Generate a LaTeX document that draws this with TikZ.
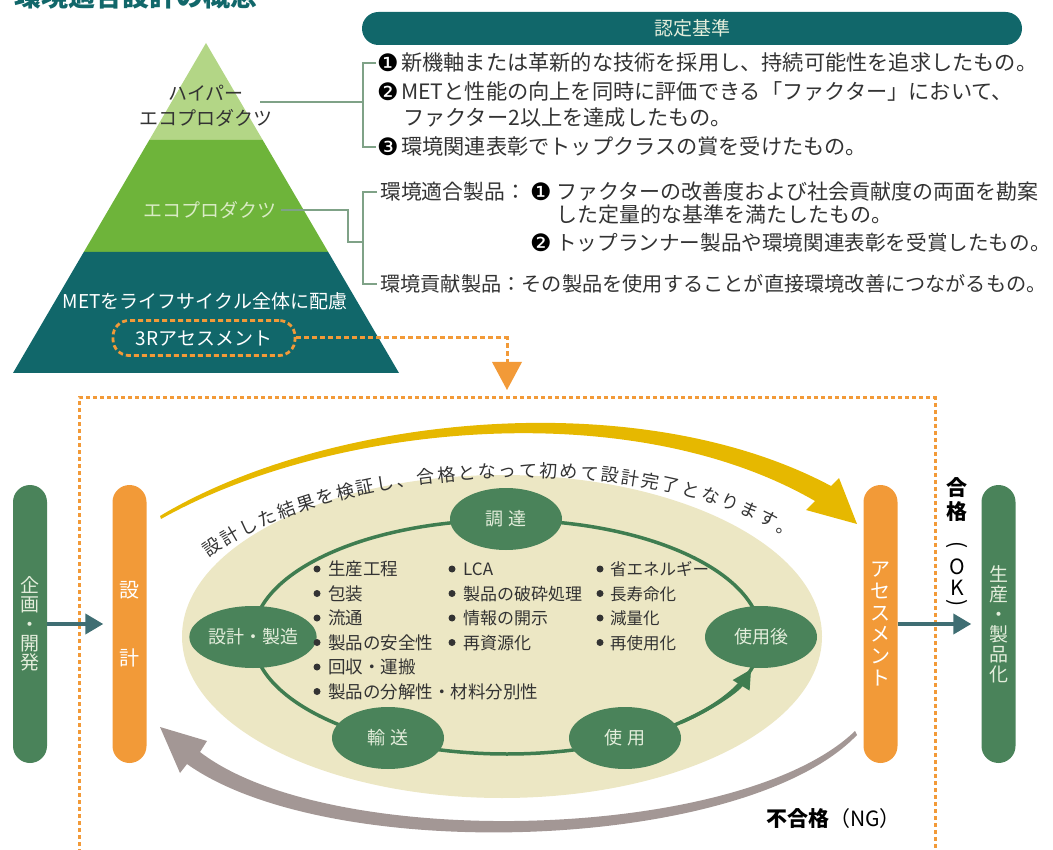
\documentclass[tikz,border=0pt]{standalone}
\usepackage{fontspec}
\setmainfont{Noto Sans CJK JP}
\newfontfamily\dv{DejaVu Sans}
\usetikzlibrary{decorations.text,arrows.meta,shapes.geometric}
\definecolor{cTeal}{HTML}{11676A}
\definecolor{cPyrL}{HTML}{B3D686}
\definecolor{cPyrM}{HTML}{6EB43A}
\definecolor{cOrange}{HTML}{F29A38}
\definecolor{cGreen}{HTML}{4A835A}
\definecolor{cRing}{HTML}{3F7D50}
\definecolor{cBeige}{HTML}{ECE7C4}
\definecolor{cYellow}{HTML}{E6B800}
\definecolor{cGray}{HTML}{A39795}
\definecolor{cArrow}{HTML}{3F6E73}
\definecolor{cConn}{HTML}{7FA287}
\definecolor{cText}{HTML}{333333}
\definecolor{cPale}{HTML}{E4EEDC}
\definecolor{cPaleG}{HTML}{D9EBC4}
\newcommand\fz[1]{\fontsize{#1}{#1}\selectfont}
\newcommand\fzs[2]{\fontsize{#1}{#2}\selectfont\lineskiplimit=-99pt\lineskip=0pt}
\tikzset{
  txt/.style={inner sep=0pt, text=cText},
  basew/.style={txt, anchor=base west},
  num/.style={inner sep=0pt, anchor=west, font=\dv\fz{24}, text=black},
  conn/.style={draw=cConn, line width=2pt},
  bar/.style={rectangle, rounded corners=17pt, minimum width=34pt, minimum height=278pt, inner sep=0pt, align=center},
  oval/.style={ellipse, fill=cGreen, minimum width=112pt, minimum height=62pt, inner sep=0pt, text=cPale, font=\fz{18}},
  flow/.style={draw=cArrow, line width=4pt, -{Triangle[length=18pt,width=20pt]}},
  odash/.style={draw=cOrange, line width=3pt, dash pattern=on 5pt off 3pt},
}
\begin{document}
\begin{tikzpicture}[x=1pt,y=-1pt]
\useasboundingbox (0,0) rectangle (1053,850);
% title (cut at top)
\node[anchor=base west, inner sep=0pt, font=\bfseries\fz{27}, text=cTeal] (title) at (14,7) {環境適合設計の概念};
% pyramid
\fill[cPyrL] (206,43) -- (262.7,140) -- (149.3,140) -- cycle;
\fill[cPyrM] (149.3,140) -- (262.7,140) -- (328.2,252) -- (83.8,252) -- cycle;
\fill[cTeal] (83.8,252) -- (328.2,252) -- (399,373) -- (13,373) -- cycle;
\node[txt, align=center, font=\fzs{19}{25}] (hyper) at (206,106) {ハイパー\\エコプロダクツ};
\node[txt, font=\fz{19}, text=cPaleG] (eco) at (210,210) {エコプロダクツ};
\node[txt, font=\fz{19}, text=white] (met) at (205,301) {METをライフサイクル全体に配慮};
\node[draw=cOrange, line width=2.8pt, dash pattern=on 5pt off 3pt, rounded corners=16pt, minimum width=182pt, minimum height=35pt, inner sep=0pt, text=white, font=\fz{19}] (r3) at (204,338) {3Rアセスメント};
% header
\node[rectangle, rounded corners=16.5pt, fill=cTeal, minimum width=660pt, minimum height=33pt, inner sep=0pt, text=cPale, font=\fz{19}] (hdr) at (692,28.5) {認定基準};
% criteria block 1
\node[num] (n1) at (377,63) {❶};
\node[basew, font=\fz{21.2}] (t1) at (401,71) {新機軸または革新的な技術を採用し、持続可能性を追求したもの。};
\node[num] (n2) at (377,92) {❷};
\node[basew, font=\fz{21.2}] (t2) at (401,100) {METと性能の向上を同時に評価できる「ファクター」において、};
\node[basew, font=\fz{21.2}] (t2b) at (403,126) {ファクター2以上を達成したもの。};
\node[num] (n3) at (377,147) {❸};
\node[basew, font=\fz{21.2}] (t3) at (401,155) {環境関連表彰でトップクラスの賞を受けたもの。};
% criteria block 2
\node[basew, font=\fz{20.8}] (lab1) at (380,200) {環境適合製品：};
\node[num] (m1) at (530,192) {❶};
\node[basew, font=\fz{21}] (u1) at (556,200) {ファクターの改善度および社会貢献度の両面を勘案};
\node[basew, font=\fz{21}] (u1b) at (556,223) {した定量的な基準を満たしたもの。};
\node[num] (m2) at (530,243) {❷};
\node[basew, font=\fz{20.6}] (u2) at (556,251) {トップランナー製品や環境関連表彰を受賞したもの。};
\node[basew, font=\fz{20.2}] (lab2) at (380,292) {環境貢献製品：その製品を使用することが直接環境改善につながるもの。};
% connectors top
\coordinate (hyperR) at (260,102);
\draw[conn] (hyperR) -- (363,102);
\draw[conn] ([xshift=-1pt]n1.west) -- (363,63) -- (363,147) -- ([xshift=-1pt]n3.west);
\draw[conn, shorten <=4pt] (eco.east) -- (348,210) -- (348,242) -- (363,242);
\draw[conn] (377,192) -- (363,192) -- (363,284) -- (377,284);
% orange connector to frame
\coordinate (drop) at (507,362);
\draw[odash] (r3.east) -| (drop);
\fill[cOrange] (492,362) -- (522,362) -- (507,390) -- cycle;
% frame
\draw[cOrange, line width=3pt, dash pattern=on 4pt off 3pt] (79,860) -- (79,398) -- (935,398) -- (935,860);
% beige ellipse
\fill[cBeige] (502,636.5) ellipse [x radius=320, y radius=161.5];
% yellow arrow
\fill[cYellow] (160,516) .. controls (330,414) and (640,384) .. (831,486) -- (839,478) -- (857,524) -- (806,510) -- (815,501) .. controls (630,394) and (330,424) .. (161,519) -- cycle;
% gray arrow
\fill[cGray] (855,731) .. controls (740,842) and (330,852) .. (200,752) -- (207,741) -- (160,727) -- (180,773) -- (187,764) .. controls (330,866) and (745,852) .. (857,735) -- cycle;
% text along arc
\path[decorate, decoration={text along path, text align=fit to path, text={|\fz{18}\color{cText}|設計した結果を検証し、合格となって初めて設計完了となります。}}] (209,558) .. controls (335,462) and (655,446) .. (790,540);
% ring
\draw[cRing, line width=3.5pt] (507,637) ellipse [x radius=254, y radius=117];
\node[oval] (proc) at (506,519) {調\hspace{6pt}達};
\node[oval] (make) at (253,637) {設計・製造};
\node[oval] (after) at (761,637) {使用後};
\node[oval] (trans) at (388,738) {輸\hspace{6pt}送};
\node[oval] (use) at (625,738) {使\hspace{6pt}用};
\draw[cRing, line width=3.5pt, -{Triangle[length=19pt,width=19pt]}] (507,637) ++(47:254 and 117) arc[start angle=47, end angle=16, x radius=254, y radius=117];
% lists
\foreach \t [count=\i from 0] in {生産工程,包装,流通,製品の安全性,回収・運搬,製品の分解性・材料分別性} {
  \fill[cText] (317,569+24.5*\i) circle (3.5pt);
  \node[basew, font=\fz{17.5}] (ca\i) at (328,575.5+24.5*\i) {\t};
}
\foreach \t [count=\i from 0] in {LCA,製品の破砕処理,情報の開示,再資源化} {
  \fill[cText] (452,569+24.5*\i) circle (3.5pt);
  \node[basew, font=\fz{17}] (cb\i) at (463,575.5+24.5*\i) {\t};
}
\foreach \t [count=\i from 0] in {省エネルギー,長寿命化,減量化,再使用化} {
  \fill[cText] (600,569+24.5*\i) circle (3.5pt);
  \node[basew, font=\fz{16.5}] (cc\i) at (610,575.5+24.5*\i) {\t};
}
% bars
\node[bar, fill=cGreen, text=cPale, font=\fzs{19}{19.3}] (plan) at (30,624) {企\\画\\・\\開\\発};
\node[bar, fill=cOrange, text=white, font=\fzs{20}{68}] (design) at (129.5,624) {設\\計};
\node[bar, fill=cOrange, text=white, font=\fzs{20}{21.8}] (assess) at (880.5,624) {ア\\セ\\ス\\メ\\ン\\ト};
\node[bar, fill=cGreen, text=cPale, font=\fzs{19}{20}] (prod) at (998.5,624) {生\\産\\・\\製\\品\\化};
\draw[flow, shorten >=9pt] (plan.east) -- (design.west);
\draw[flow, shorten >=10pt] (assess.east) -- (prod.west);
% OK / NG labels
\node[txt, font=\bfseries\fz{21}, text=black] (ok1) at (957,488) {合};
\node[txt, font=\bfseries\fz{21}, text=black] (ok2) at (957,512) {格};
\node[txt, font=\fz{21}, text=black, rotate=-90] (ok3) at (957,545) {(};
\node[txt, font=\fz{21}, text=black] (ok4) at (957,567) {O};
\node[txt, font=\fz{21}, text=black] (ok5) at (957,588) {K};
\node[txt, font=\fz{21}, text=black, rotate=-90] (ok6) at (957,603) {)};
\node[basew, font=\fz{21}, text=black] (ng) at (766,826) {\textbf{不合格}（NG）};
\end{tikzpicture}
\end{document}
